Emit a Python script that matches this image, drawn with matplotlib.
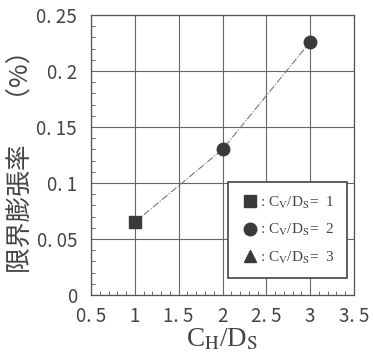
import numpy as np
import matplotlib
matplotlib.use("Agg")
import matplotlib.pyplot as plt
from matplotlib.ticker import MultipleLocator, FixedLocator
from matplotlib.lines import Line2D

plt.rcParams['font.family'] = ['Noto Sans CJK JP', 'DejaVu Sans']
plt.rcParams['mathtext.fontset'] = 'stix'

# limit expansion rate vs C_H/D_S
ch_ds = [1, 2, 3]
rate = [0.065, 0.13, 0.226]
markers = ['s', 'o', 'o']

xticks = [0.5, 1, 1.5, 2, 2.5, 3, 3.5]
xticklabels = ['0. 5', '1', '1. 5', '2', '2. 5', '3', '3. 5']
yticks = [0, 0.05, 0.1, 0.15, 0.2, 0.25]
yticklabels = ['0', '0. 05', '0. 1', '0. 15', '0. 2', '0. 25']
legend_labels = [r': C$_\mathrm{V}$/D$_\mathrm{S}$=  1',
                 r': C$_\mathrm{V}$/D$_\mathrm{S}$=  2',
                 r': C$_\mathrm{V}$/D$_\mathrm{S}$=  3']

fig = plt.figure(figsize=(3.73, 3.55), dpi=100)
ax = fig.add_axes([91/373, 1-295/355, (354-91)/373, (295-15)/355])

ink = '#3a3a3a'
ax.plot(ch_ds, rate, color='#777777', lw=0.8, ls='-.', zorder=2)
for x, y, m in zip(ch_ds, rate, markers):
    ax.plot(x, y, marker=m, ms=8 if m == 's' else 9, color=ink, ls='none', zorder=3)

ax.set_xlim(0.5, 3.5)
ax.set_ylim(0, 0.25)
ax.xaxis.set_major_locator(FixedLocator(xticks))
ax.set_xticklabels(xticklabels)
ax.yaxis.set_major_locator(FixedLocator(yticks))
ax.set_yticklabels(yticklabels)
ax.xaxis.set_minor_locator(MultipleLocator(0.1))
ax.yaxis.set_minor_locator(MultipleLocator(0.01))
ax.tick_params(which='both', direction='in', color='#555555', top=False, right=False)
ax.tick_params(which='major', length=0, labelsize=13.5, labelcolor='#444444')
ax.tick_params(axis='y', which='major', pad=10)
ax.tick_params(axis='x', which='major', pad=8)
ax.tick_params(which='minor', length=3, width=0.6)
ax.grid(True, which='major', color='#666666', lw=0.8)
for s in ax.spines.values():
    s.set_color('#555555')
    s.set_linewidth(0.9)

ax.set_ylabel('限界膨張率　 （%）', fontsize=18.5, color='#444444', labelpad=1)
ax.set_xlabel(r'C$_\mathrm{H}$/D$_\mathrm{S}$', fontsize=19.5, color='#444444',
              family='Liberation Serif', labelpad=0)

handles = [Line2D([], [], marker='s', ms=8, color=ink, ls='none'),
           Line2D([], [], marker='o', ms=9, color=ink, ls='none'),
           Line2D([], [], marker='^', ms=9, color=ink, ls='none')]
leg = ax.legend(handles, legend_labels, loc='lower right', bbox_to_anchor=(0.973, 0.061),
                borderaxespad=0, fancybox=False, framealpha=1, edgecolor='#444444',
                handletextpad=0.1, handlelength=1.2, labelspacing=0.75, borderpad=0.8,
                prop={'family': 'Liberation Serif', 'size': 11})
leg.get_frame().set_linewidth(1.2)
for t in leg.get_texts():
    t.set_color('#444444')

fig.savefig('out.png', dpi=100)
